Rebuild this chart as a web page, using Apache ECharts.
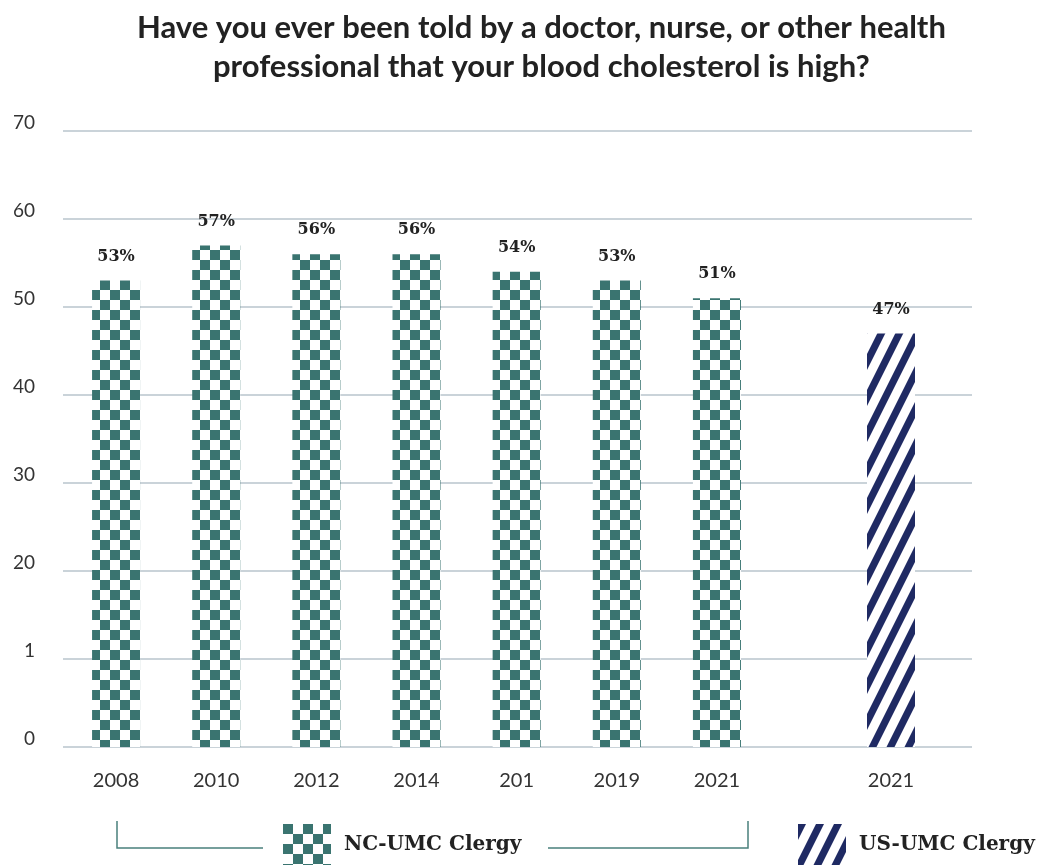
<!DOCTYPE html>
<html>
<head>
<meta charset="utf-8">
<script src="https://cdn.jsdelivr.net/npm/echarts@6/dist/echarts.min.js"></script>
<style>
html,body{margin:0;padding:0;background:#fff;}
#chart{width:1044px;height:865px;}
</style>
</head>
<body>
<div id="chart"></div>
<script>
const titleLines = ['Have you ever been told by a doctor, nurse, or other health', 'professional that your blood cholesterol is high?'];
const ncCategories = ['2008', '2010', '2012', '2014', '201', '2019', '2021'];
const ncValues = [53, 57, 56, 56, 54, 53, 51];
const usCategories = ['2021'];
const usValues = [47];
const yTickLabels = ['0', '1', '20', '30', '40', '50', '60', '70'];
const seriesNames = ['NC-UMC Clergy', 'US-UMC Clergy'];

const TEAL = '#3a7470';
const NAVY = '#1f2a63';

function checkerPattern() {
  const c = document.createElement('canvas');
  c.width = 20; c.height = 20;
  const ctx = c.getContext('2d');
  ctx.fillStyle = '#ffffff';
  ctx.fillRect(0, 0, 20, 20);
  ctx.fillStyle = TEAL;
  ctx.fillRect(0, 0, 10, 10);
  ctx.fillRect(10, 10, 10, 10);
  return c;
}
function stripePattern() {
  const w = 18, h = 36, s = 8;
  const c = document.createElement('canvas');
  c.width = w; c.height = h;
  const ctx = c.getContext('2d');
  ctx.fillStyle = '#ffffff';
  ctx.fillRect(0, 0, w, h);
  ctx.fillStyle = NAVY;
  [-w, 0, w].forEach(function (o) {
    ctx.beginPath();
    ctx.moveTo(o, h);
    ctx.lineTo(o + s, h);
    ctx.lineTo(o + s + w, 0);
    ctx.lineTo(o + w, 0);
    ctx.closePath();
    ctx.fill();
  });
  return c;
}

const checker = { image: checkerPattern(), repeat: 'repeat' };
const stripes = { image: stripePattern(), repeat: 'repeat' };

// each title line is centred on x = 541
const TITLE_FONT = 31;
const measureCtx = document.createElement('canvas').getContext('2d');
measureCtx.font = 'bold ' + TITLE_FONT + 'px Lato';
const titles = titleLines.map(function (t, i) {
  const w = measureCtx.measureText(t).width;
  return {
    text: t,
    left: Math.round(541 - w / 2), top: 8 + i * 39, padding: 0,
    textStyle: { fontFamily: 'Lato', fontWeight: 'bold', fontSize: TITLE_FONT, lineHeight: 39, color: '#222' }
  };
});

const chart = echarts.init(document.getElementById('chart'), null, { renderer: 'canvas' });

const gridTop = 131, gridBottom = 118;
const labelStyle = {
  show: true, position: 'top', distance: 16,
  formatter: '{c}%',
  fontFamily: 'DejaVu Serif', fontWeight: 'bold', fontSize: 16, color: '#222'
};
const xLabel = { fontFamily: 'Lato', fontSize: 20, color: '#333', margin: 24 };

const legendCommon = {
  itemWidth: 48, itemHeight: 42, selectedMode: false, icon: 'rect', padding: 0,
  textStyle: { fontFamily: 'DejaVu Serif', fontWeight: 'bold', fontSize: 20, color: '#222', padding: [0, 0, 0, 8] }
};

chart.setOption({
  animation: false,
  backgroundColor: '#ffffff',
  title: titles,
  legend: [
    Object.assign({ data: [seriesNames[0]], left: 283, top: 824 }, legendCommon),
    Object.assign({ data: [seriesNames[1]], left: 798, top: 824 }, legendCommon)
  ],
  grid: [
    { left: 63, right: 72, top: gridTop, bottom: gridBottom },
    { left: 66, width: 701, top: gridTop, bottom: gridBottom },
    { left: 841, width: 100, top: gridTop, bottom: gridBottom }
  ],
  xAxis: [
    { gridIndex: 0, type: 'category', data: [], show: false },
    { gridIndex: 1, type: 'category', data: ncCategories, axisLine: { show: false }, axisTick: { show: false }, axisLabel: xLabel },
    { gridIndex: 2, type: 'category', data: usCategories, axisLine: { show: false }, axisTick: { show: false }, axisLabel: xLabel }
  ],
  yAxis: [
    {
      gridIndex: 0, type: 'value', min: 0, max: 70, interval: 10,
      axisLine: { show: false }, axisTick: { show: false },
      axisLabel: {
        fontFamily: 'Lato', fontSize: 19, color: '#333', margin: 28, verticalAlign: 'bottom', lineHeight: 16,
        formatter: function (v) { return yTickLabels[Math.round(v / 10)]; }
      },
      splitLine: { show: true, lineStyle: { color: '#b9c4cc', width: 1.5 } }
    },
    { gridIndex: 1, type: 'value', min: 0, max: 70, interval: 10, show: false, splitLine: { show: false } },
    { gridIndex: 2, type: 'value', min: 0, max: 70, interval: 10, show: false, splitLine: { show: false } }
  ],
  series: [
    {
      name: seriesNames[0], type: 'bar', xAxisIndex: 1, yAxisIndex: 1,
      data: ncValues, barWidth: 48,
      itemStyle: { color: checker },
      label: labelStyle
    },
    {
      name: seriesNames[1], type: 'bar', xAxisIndex: 2, yAxisIndex: 2,
      data: usValues, barWidth: 48,
      itemStyle: { color: stripes },
      label: labelStyle
    }
  ],
  graphic: [
    { type: 'polyline', shape: { points: [[117, 821], [117, 848], [263, 848]] }, style: { stroke: '#4a807c', lineWidth: 1.5, fill: null } },
    { type: 'polyline', shape: { points: [[548, 848], [748, 848], [748, 821]] }, style: { stroke: '#4a807c', lineWidth: 1.5, fill: null } }
  ]
});
</script>
</body>
</html>
